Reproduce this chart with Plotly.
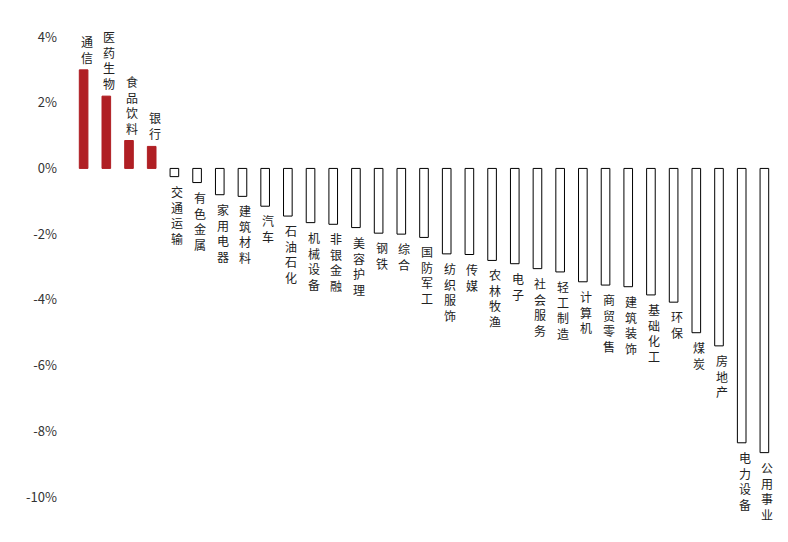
import plotly.graph_objects as go

categories = ["通信","医药生物","食品饮料","银行","交通运输","有色金属","家用电器","建筑材料","汽车","石油石化",
              "机械设备","非银金融","美容护理","钢铁","综合","国防军工","纺织服饰","传媒","农林牧渔","电子",
              "社会服务","轻工制造","计算机","商贸零售","建筑装饰","基础化工","环保","煤炭","房地产","电力设备","公用事业"]
values = [3.0,2.2,0.85,0.67,-0.25,-0.43,-0.8,-0.85,-1.15,-1.45,
          -1.65,-1.7,-1.8,-1.97,-2.0,-2.1,-2.6,-2.62,-2.8,-2.9,
          -3.05,-3.15,-3.45,-3.55,-3.6,-3.85,-4.07,-5.0,-5.4,-8.35,-8.65]
tick_vals = [4,2,0,-2,-4,-6,-8,-10]
tick_text = ["4%","2%","0%","-2%","-4%","-6%","-8%","-10%"]

font = "Noto Sans CJK SC"
fills = ["#b01f24" if v > 0 else "white" for v in values]
lines = ["#b01f24" if v > 0 else "black" for v in values]
fig = go.Figure(go.Bar(x=list(range(len(categories))), y=values, width=0.38,
                       marker=dict(color=fills, line=dict(color=lines, width=1))))
for i, (c, v) in enumerate(zip(categories, values)):
    fig.add_annotation(x=i, y=v, text="<br>".join(c), showarrow=False,
                       yanchor="bottom" if v > 0 else "top", yshift=2 if v > 0 else -4,
                       xshift=3,
                       font=dict(family=font, size=12, color="#222"))
fig.update_layout(width=788, height=542, plot_bgcolor="white", paper_bgcolor="white",
                  margin=dict(l=62, r=18, t=29, b=53), showlegend=False,
                  font=dict(family=font, size=13, color="#333"))
fig.update_xaxes(visible=False, range=[-0.6, len(categories)-0.4])
fig.update_yaxes(range=[-10, 4], tickvals=tick_vals, ticktext=tick_text, showgrid=False,
                 zeroline=False, showline=False, ticks="", ticklabelstandoff=12)
fig.write_html("out.html")
